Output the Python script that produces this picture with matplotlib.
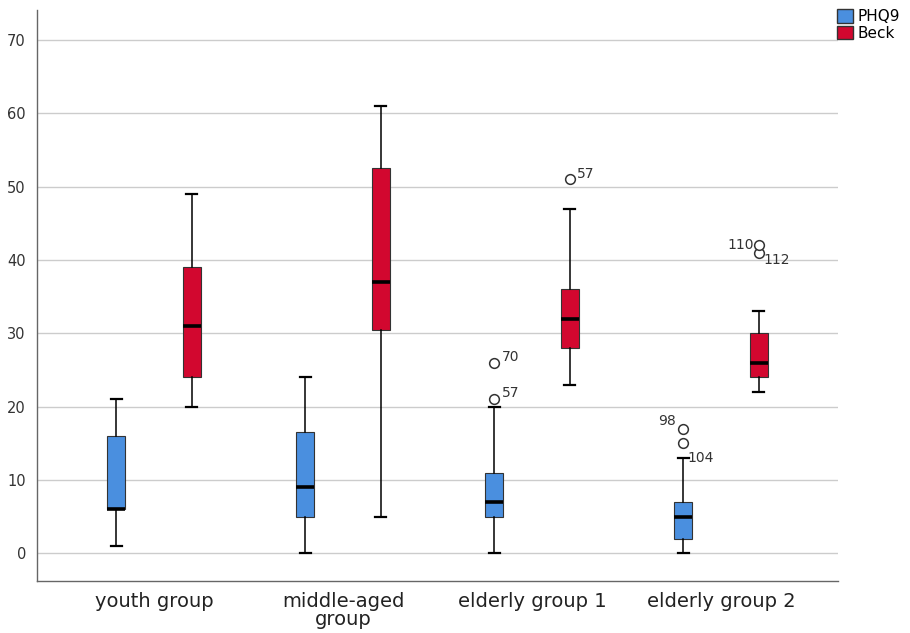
import matplotlib
matplotlib.use("Agg")
import matplotlib.pyplot as plt
from matplotlib.patches import Patch

# data
groups = ["youth group", "middle-aged\ngroup", "elderly group 1", "elderly group 2"]
series = ["PHQ9", "Beck"]
colors = {"PHQ9": "#4a8fdf", "Beck": "#d2072f"}

# (whislo, q1, median, q3, whishi)
phq9_stats = [(1, 6, 6, 16, 21), (0, 5, 9, 16.5, 24), (0, 5, 7, 11, 20), (0, 2, 5, 7, 13)]
beck_stats = [(20, 24, 31, 39, 49), (5, 30.5, 37, 52.5, 61), (23, 28, 32, 36, 47), (22, 24, 26, 30, 33)]
phq9_fliers = [[], [], [21, 26], [15, 17]]
beck_fliers = [[], [], [51], [41, 42]]

# outlier case labels: (group index, series, value, label, dx, dy, ha)
outlier_labels = [
    (2, "PHQ9", 26, "70", 0.04, 0.8, "left"),
    (2, "PHQ9", 21, "57", 0.04, 0.8, "left"),
    (2, "Beck", 51, "57", 0.04, 0.8, "left"),
    (3, "PHQ9", 17, "98", -0.04, 1.0, "right"),
    (3, "PHQ9", 15, "104", 0.02, -2.0, "left"),
    (3, "Beck", 42, "110", -0.025, 0.0, "right"),
    (3, "Beck", 41, "112", 0.025, -1.0, "left"),
]

offset = 0.2
fig = plt.figure(figsize=(9.1, 6.33), dpi=100)
ax = fig.add_axes([0.0407, 0.0821, 0.8802, 0.902])

for name, stats, fliers, sign in [("PHQ9", phq9_stats, phq9_fliers, -1),
                                   ("Beck", beck_stats, beck_fliers, 1)]:
    bstats = []
    for s, f in zip(stats, fliers):
        bstats.append(dict(whislo=s[0], q1=s[1], med=s[2], q3=s[3], whishi=s[4], fliers=f))
    pos = [i + 1 + sign * offset for i in range(len(groups))]
    ax.bxp(bstats, positions=pos, widths=0.095, capwidths=0.06, patch_artist=True,
           showfliers=True,
           boxprops=dict(facecolor=colors[name], edgecolor="#333333", linewidth=0.8),
           medianprops=dict(color="black", linewidth=2.6),
           whiskerprops=dict(color="black", linewidth=1.1),
           capprops=dict(color="black", linewidth=1.6),
           flierprops=dict(marker="o", markerfacecolor="white", markeredgecolor="#333333",
                           markersize=7, markeredgewidth=1.1))

for gi, name, val, lab, dx, dy, ha in outlier_labels:
    sign = -1 if name == "PHQ9" else 1
    x = gi + 1 + sign * offset
    ax.text(x + dx, val + dy, lab, fontsize=10, color="#333333", ha=ha, va="center")

ax.set_xlim(0.381, 4.619)
ax.set_ylim(-3.8, 74.1)
ax.set_yticks(range(0, 71, 10))
ax.set_xticks(range(1, len(groups) + 1))
ax.set_xticklabels(groups, fontsize=14, color="#222222", linespacing=0.9)
ax.tick_params(axis="both", length=0)
ax.tick_params(axis="y", labelsize=10.5, labelcolor="#333333", pad=8)
ax.tick_params(axis="x", pad=8)
ax.yaxis.grid(True, color="#cccccc", linewidth=1.0)
ax.set_axisbelow(True)
for sp in ["top", "right"]:
    ax.spines[sp].set_visible(False)
for sp in ["left", "bottom"]:
    ax.spines[sp].set_color("#666666")
    ax.spines[sp].set_linewidth(1.0)

handles = [Patch(facecolor=colors[s], edgecolor="#333333", label=s) for s in series]
fig.legend(handles=handles, loc="upper left", bbox_to_anchor=(0.91, 1.0), frameon=False,
           fontsize=11, handlelength=1.0, handleheight=1.0, handletextpad=0.3,
           labelspacing=0.1, borderaxespad=0.2)

fig.savefig("out.png", dpi=100)
